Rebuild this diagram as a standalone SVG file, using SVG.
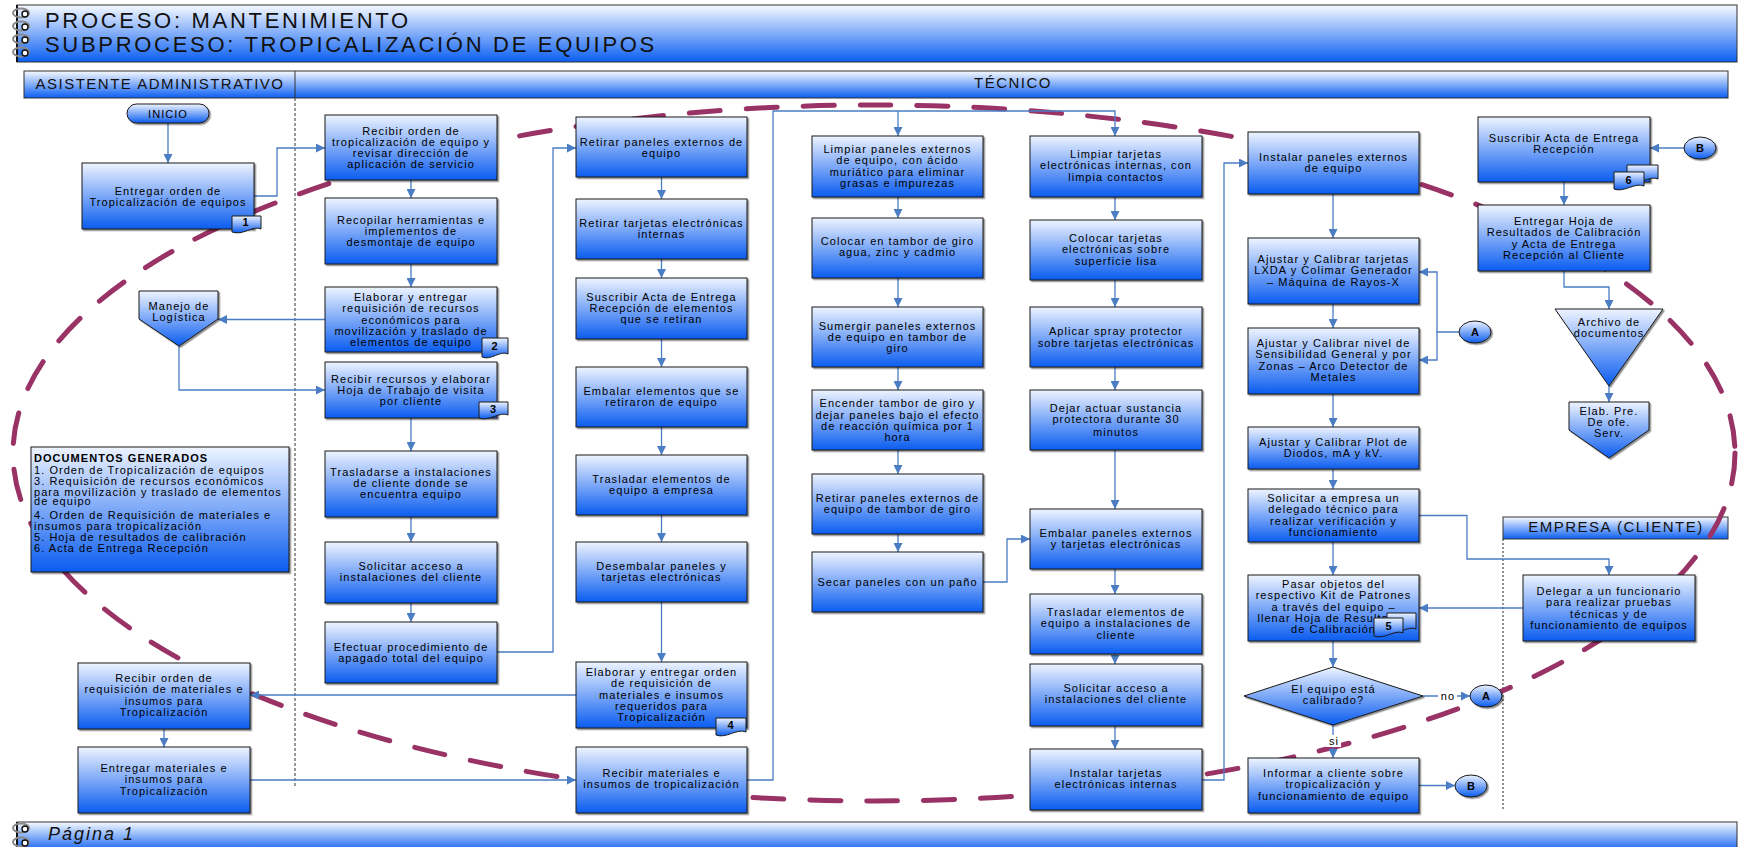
<svg xmlns="http://www.w3.org/2000/svg" xmlns:xlink="http://www.w3.org/1999/xlink" width="1738" height="847" viewBox="0 0 1738 847">
<defs>
  <linearGradient id="gb" x1="0" y1="0" x2="0" y2="1">
    <stop offset="0" stop-color="#eef4ff"/>
    <stop offset="1" stop-color="#0a5cf0"/>
  </linearGradient>
  <linearGradient id="gh" x1="0" y1="0" x2="0" y2="1">
    <stop offset="0" stop-color="#f7faff"/>
    <stop offset="1" stop-color="#0a5ef2"/>
  </linearGradient>
  <filter id="sh" x="-5%" y="-5%" width="115%" height="120%">
    <feDropShadow dx="1.5" dy="1.5" stdDeviation="0.6" flood-color="#000" flood-opacity="0.45"/>
  </filter>
  <marker id="ah" viewBox="0 0 10 10" refX="10" refY="5" markerWidth="10" markerHeight="9" markerUnits="userSpaceOnUse" orient="auto">
    <path d="M0,0 L10,5 L0,10 z" fill="#4a7dc4"/>
  </marker>
  <g id="ring">
    <ellipse cx="0" cy="0" rx="8" ry="4.5" fill="none" stroke="#8a8a8a" stroke-width="2"/>
    <circle cx="4" cy="1" r="3" fill="#fff" stroke="#111" stroke-width="1.4"/>
  </g>
  <style>
    .box{fill:url(#gb);stroke:#1a1a1a;stroke-width:1;filter:url(#sh)}
    .bar{fill:url(#gh);stroke:#333;stroke-width:1}
    .doc{fill:url(#gb);stroke:#1a1a1a;stroke-width:1}
    .t{font-family:"Liberation Sans",Arial,sans-serif;font-size:11px;letter-spacing:1.05px;text-anchor:middle;fill:#000}
    .tl{font-family:"Liberation Sans",Arial,sans-serif;font-size:11px;letter-spacing:1.05px;fill:#000}
    .b{font-weight:bold}
    .title{font-family:"Liberation Sans",Arial,sans-serif;font-size:22px;letter-spacing:2.7px;fill:#111}
    .lane{font-family:"Liberation Sans",Arial,sans-serif;font-size:15px;letter-spacing:1.5px;text-anchor:middle;fill:#111}
    .c{fill:none;stroke:#4a7dc4;stroke-width:1.3;marker-end:url(#ah)}
  </style>
</defs>

<rect width="1738" height="847" fill="#fff"/>

<!-- title bar -->
<g id="title-bar">
  <rect class="bar" x="17" y="5" width="1720" height="57"/>
  <line x1="17" y1="5" x2="17" y2="62" stroke="#111" stroke-width="2"/>
  <use href="#ring" x="21" y="13"/>
  <use href="#ring" x="21" y="26"/>
  <use href="#ring" x="21" y="39"/>
  <use href="#ring" x="21" y="52"/>
  <text class="title" x="45" y="28">PROCESO: MANTENIMIENTO</text>
  <text class="title" x="45" y="52">SUBPROCESO: TROPICALIZACIÓN DE EQUIPOS</text>
</g>

<!-- swimlane headers and separators -->
<g id="lanes">
  <rect class="bar" x="24" y="71" width="1704" height="27"/>
  <line x1="295" y1="71" x2="295" y2="98" stroke="#333"/>
  <text class="lane" x="160" y="89">ASISTENTE ADMINISTRATIVO</text>
  <text class="lane" x="1013" y="88">TÉCNICO</text>
  <line x1="295" y1="98" x2="295" y2="788" stroke="#555" stroke-width="1.2" stroke-dasharray="3 2"/>
  <rect class="bar" x="1503" y="517" width="225" height="22"/>
  <text class="lane" x="1616" y="532">EMPRESA (CLIENTE)</text>
  <line x1="1503" y1="539" x2="1503" y2="809" stroke="#222" stroke-width="1" stroke-dasharray="2 2"/>
</g>

<!-- footer -->
<g id="footer">
  <rect class="bar" x="17" y="822" width="1720" height="30"/>
  <line x1="17" y1="822" x2="17" y2="847" stroke="#111" stroke-width="2"/>
  <use href="#ring" x="21" y="828"/>
  <use href="#ring" x="21" y="842"/>
  <text x="48" y="840" font-family="'Liberation Sans',Arial,sans-serif" font-size="18" font-style="italic" letter-spacing="2" fill="#111">Página 1</text>
</g>

<!-- highlighted scope -->
<ellipse id="scope" cx="874" cy="453" rx="861" ry="348" fill="none" stroke="#993366" stroke-width="5" stroke-dasharray="31 26" stroke-linecap="round"/>

<!-- connectors -->
<g id="connectors">
  <path class="c" d="M168 123V163"/>
  <path class="c" d="M254 196H277V148H325"/>
  <path class="c" d="M411 180V198"/>
  <path class="c" d="M411 264V287"/>
  <path class="c" d="M411 418V451"/>
  <path class="c" d="M411 517V542"/>
  <path class="c" d="M411 603V622"/>
  <path class="c" d="M325 319.5H218"/>
  <path class="c" d="M179 346V390H325"/>
  <path class="c" d="M497 652H553V148H576"/>
  <path class="c" d="M661.5 177V199"/>
  <path class="c" d="M661.5 259V278"/>
  <path class="c" d="M661.5 339V367"/>
  <path class="c" d="M661.5 427V455"/>
  <path class="c" d="M661.5 515V542"/>
  <path class="c" d="M661.5 602V662"/>
  <path class="c" d="M576 695H250"/>
  <path class="c" d="M164 729V747"/>
  <path class="c" d="M250 780H576"/>
  <path class="c" d="M747 780H773V111H1115V136"/>
  <path class="c" d="M898 111V136"/>
  <path class="c" d="M898 197V218"/>
  <path class="c" d="M898 278V307"/>
  <path class="c" d="M898 367V390"/>
  <path class="c" d="M898 450V474"/>
  <path class="c" d="M898 534V552"/>
  <path class="c" d="M983 582H1007V539H1030"/>
  <path class="c" d="M1115 197V220"/>
  <path class="c" d="M1115 280V307"/>
  <path class="c" d="M1115 367V390"/>
  <path class="c" d="M1115 450V509"/>
  <path class="c" d="M1115 569V594"/>
  <path class="c" d="M1115 654V664"/>
  <path class="c" d="M1115 726V749"/>
  <path class="c" d="M1202 780H1224V163H1248"/>
  <path class="c" d="M1333 194V238"/>
  <path class="c" d="M1333 304V328"/>
  <path class="c" d="M1333 394V427"/>
  <path class="c" d="M1333 469V489"/>
  <path class="c" d="M1333 542V575"/>
  <path class="c" d="M1333 641V667"/>
  <path class="c" d="M1333 725V758"/>
  <path class="c" d="M1459 332H1437V272H1419"/>
  <path class="c" d="M1437 332V360H1419"/>
  <path class="c" d="M1684 148H1650"/>
  <path class="c" d="M1564 182V205"/>
  <path class="c" d="M1564 271V287H1609V309"/>
  <path class="c" d="M1609 386V402"/>
  <path class="c" d="M1419 515.5H1467V559H1609V575"/>
  <path class="c" d="M1523 608H1419"/>
  <path class="c" d="M1423 696H1470"/>
  <path class="c" d="M1419 785.5H1455"/>
  <rect x="1438" y="690" width="19" height="12" fill="#fff"/>
  <text class="t" x="1448" y="700">no</text>
  <rect x="1326" y="735" width="15" height="12" fill="#fff"/>
  <text class="t" x="1334" y="745">si</text>
</g>

<!-- ASISTENTE ADMINISTRATIVO lane -->
<g id="inicio">
  <rect class="box" x="127" y="104" width="82" height="19" rx="9.5"/>
  <text class="t" x="168" y="118">INICIO</text>
</g>
<g id="entregar-orden">
  <rect class="box" x="82" y="163" width="172" height="66"/>
  <text class="t" x="168" y="194.5">Entregar orden de<tspan x="168" dy="11.3">Tropicalización de equipos</tspan></text>
  <path class="doc" d="M232 216H261V229C253 225 243 236 232 232Z"/>
  <text class="t b" x="246" y="226">1</text>
</g>
<g id="manejo-logistica">
  <polygon class="box" points="139,291 218,291 218,319 179,346 139,319"/>
  <text class="t" x="179" y="309.5">Manejo de<tspan x="179" dy="11">Logística</tspan></text>
</g>
<g id="documentos-generados">
  <rect class="box" x="31" y="447" width="258" height="125"/>
  <text class="tl b" x="34" y="462">DOCUMENTOS GENERADOS</text>
  <text class="tl" x="34" y="474">1. Orden de Tropicalización de equipos</text>
  <text class="tl" x="34" y="485">3. Requisición de recursos económicos</text>
  <text class="tl" x="34" y="496">para movilización y traslado de elementos</text>
  <text class="tl" x="34" y="505">de equipo</text>
  <text class="tl" x="34" y="518.5">4. Orden de Requisición de materiales e</text>
  <text class="tl" x="34" y="529.5">insumos para tropicalización</text>
  <text class="tl" x="34" y="541">5. Hoja de resultados de calibración</text>
  <text class="tl" x="34" y="552">6. Acta de Entrega Recepción</text>
</g>
<g id="recibir-requisicion">
  <rect class="box" x="78" y="663" width="172" height="66"/>
  <text class="t" x="164" y="682">Recibir orden de<tspan x="164" dy="11.3">requisición de materiales e</tspan><tspan x="164" dy="11.3">insumos para</tspan><tspan x="164" dy="11.3">Tropicalización</tspan></text>
</g>
<g id="entregar-materiales">
  <rect class="box" x="78" y="747" width="172" height="66"/>
  <text class="t" x="164" y="772">Entregar materiales e<tspan x="164" dy="11.3">insumos para</tspan><tspan x="164" dy="11.3">Tropicalización</tspan></text>
</g>

<!-- TÉCNICO lane, first column -->
<g id="recibir-orden">
  <rect class="box" x="325" y="115" width="172" height="65"/>
  <text class="t" x="411" y="134.5">Recibir orden de<tspan x="411" dy="11.3">tropicalización de equipo  y</tspan><tspan x="411" dy="11.3">revisar  dirección de</tspan><tspan x="411" dy="11.3">aplicación de servicio</tspan></text>
</g>
<g id="recopilar">
  <rect class="box" x="325" y="198" width="172" height="66"/>
  <text class="t" x="411" y="223.7">Recopilar herramientas  e<tspan x="411" dy="11.3">implementos de</tspan><tspan x="411" dy="11.3">desmontaje de equipo</tspan></text>
</g>
<g id="elaborar-requisicion">
  <rect class="box" x="325" y="287" width="172" height="65"/>
  <text class="t" x="411" y="300.9">Elaborar y entregar<tspan x="411" dy="11.3">requisición de recursos</tspan><tspan x="411" dy="11.3">económicos para</tspan><tspan x="411" dy="11.3">movilización y traslado de</tspan><tspan x="411" dy="11.3">elementos de equipo</tspan></text>
  <path class="doc" d="M482 338H508V354C500 350 491 361 482 357Z"/>
  <text class="t b" x="495" y="350">2</text>
</g>
<g id="recibir-recursos">
  <rect class="box" x="325" y="362" width="172" height="56"/>
  <text class="t" x="411" y="382.7">Recibir recursos y elaborar<tspan x="411" dy="11.3">Hoja de Trabajo de visita</tspan><tspan x="411" dy="11.3">por cliente</tspan></text>
  <path class="doc" d="M479 402H508V415C500 411 489 422 479 418Z"/>
  <text class="t b" x="493.5" y="413">3</text>
</g>
<g id="trasladarse">
  <rect class="box" x="325" y="451" width="172" height="66"/>
  <text class="t" x="411" y="475.7">Trasladarse a instalaciones<tspan x="411" dy="11.3">de cliente donde se</tspan><tspan x="411" dy="11.3">encuentra equipo</tspan></text>
</g>
<g id="solicitar-acceso-1">
  <rect class="box" x="325" y="542" width="172" height="61"/>
  <text class="t" x="411" y="569.5">Solicitar acceso  a<tspan x="411" dy="11.3">instalaciones del cliente</tspan></text>
</g>
<g id="efectuar-apagado">
  <rect class="box" x="325" y="622" width="172" height="61"/>
  <text class="t" x="411" y="650.8">Efectuar procedimiento de<tspan x="411" dy="11.3">apagado total del equipo</tspan></text>
</g>

<!-- second column -->
<g id="retirar-paneles">
  <rect class="box" x="576" y="117" width="171" height="60"/>
  <text class="t" x="661.5" y="146">Retirar paneles externos de<tspan x="661.5" dy="11.3">equipo</tspan></text>
</g>
<g id="retirar-tarjetas">
  <rect class="box" x="576" y="199" width="171" height="60"/>
  <text class="t" x="661.5" y="227">Retirar tarjetas electrónicas<tspan x="661.5" dy="11.3">internas</tspan></text>
</g>
<g id="suscribir-retiro">
  <rect class="box" x="576" y="278" width="171" height="61"/>
  <text class="t" x="661.5" y="300.8">Suscribir Acta de Entrega<tspan x="661.5" dy="11.3">Recepción de elementos</tspan><tspan x="661.5" dy="11.3">que  se retiran</tspan></text>
</g>
<g id="embalar-elementos">
  <rect class="box" x="576" y="367" width="171" height="60"/>
  <text class="t" x="661.5" y="395">Embalar elementos que se<tspan x="661.5" dy="11.3">retiraron de equipo</tspan></text>
</g>
<g id="trasladar-empresa">
  <rect class="box" x="576" y="455" width="171" height="60"/>
  <text class="t" x="661.5" y="483">Trasladar elementos de<tspan x="661.5" dy="11.3">equipo a empresa</tspan></text>
</g>
<g id="desembalar">
  <rect class="box" x="576" y="542" width="171" height="60"/>
  <text class="t" x="661.5" y="570">Desembalar paneles y<tspan x="661.5" dy="11.3">tarjetas electrónicas</tspan></text>
</g>
<g id="elaborar-orden">
  <rect class="box" x="576" y="662" width="171" height="66"/>
  <text class="t" x="661.5" y="676">Elaborar y entregar orden<tspan x="661.5" dy="11.3">de requisición de</tspan><tspan x="661.5" dy="11.3">materiales e insumos</tspan><tspan x="661.5" dy="11.3">requeridos para</tspan><tspan x="661.5" dy="11.3">Tropicalización</tspan></text>
  <path class="doc" d="M716 718H746V732C737 728 726 739 716 735Z"/>
  <text class="t b" x="731" y="729">4</text>
</g>
<g id="recibir-materiales">
  <rect class="box" x="576" y="747" width="171" height="66"/>
  <text class="t" x="661.5" y="777">Recibir materiales e<tspan x="661.5" dy="11.3">insumos de tropicalización</tspan></text>
</g>

<!-- third column -->
<g id="limpiar-paneles">
  <rect class="box" x="812" y="136" width="171" height="61"/>
  <text class="t" x="897.5" y="153">Limpiar paneles externos<tspan x="897.5" dy="11.3">de equipo, con ácido</tspan><tspan x="897.5" dy="11.3">muriático para eliminar</tspan><tspan x="897.5" dy="11.3">grasas e impurezas</tspan></text>
</g>
<g id="colocar-tambor">
  <rect class="box" x="812" y="218" width="171" height="60"/>
  <text class="t" x="897.5" y="245">Colocar en tambor de giro<tspan x="897.5" dy="11.3">agua, zinc y cadmio</tspan></text>
</g>
<g id="sumergir-paneles">
  <rect class="box" x="812" y="307" width="171" height="60"/>
  <text class="t" x="897.5" y="329.5">Sumergir paneles externos<tspan x="897.5" dy="11.3">de equipo en tambor de</tspan><tspan x="897.5" dy="11.3">giro</tspan></text>
</g>
<g id="encender-tambor">
  <rect class="box" x="812" y="390" width="171" height="60"/>
  <text class="t" x="897.5" y="407.3">Encender tambor de giro y<tspan x="897.5" dy="11.3">dejar paneles bajo el efecto</tspan><tspan x="897.5" dy="11.3">de reacción química por 1</tspan><tspan x="897.5" dy="11.3">hora</tspan></text>
</g>
<g id="retirar-de-tambor">
  <rect class="box" x="812" y="474" width="171" height="60"/>
  <text class="t" x="897.5" y="502">Retirar paneles externos de<tspan x="897.5" dy="11.3">equipo de tambor de giro</tspan></text>
</g>
<g id="secar-paneles">
  <rect class="box" x="812" y="552" width="171" height="60"/>
  <text class="t" x="897.5" y="586">Secar paneles con un paño</text>
</g>

<!-- fourth column -->
<g id="limpiar-tarjetas">
  <rect class="box" x="1030" y="136" width="172" height="61"/>
  <text class="t" x="1116" y="158">Limpiar tarjetas<tspan x="1116" dy="11.3">electrónicas internas, con</tspan><tspan x="1116" dy="11.3">limpia contactos</tspan></text>
</g>
<g id="colocar-tarjetas">
  <rect class="box" x="1030" y="220" width="172" height="60"/>
  <text class="t" x="1116" y="242">Colocar tarjetas<tspan x="1116" dy="11.3">electrónicas sobre</tspan><tspan x="1116" dy="11.3">superficie lisa</tspan></text>
</g>
<g id="aplicar-spray">
  <rect class="box" x="1030" y="307" width="172" height="60"/>
  <text class="t" x="1116" y="335.4">Aplicar spray protector<tspan x="1116" dy="11.3">sobre tarjetas electrónicas</tspan></text>
</g>
<g id="dejar-actuar">
  <rect class="box" x="1030" y="390" width="172" height="60"/>
  <text class="t" x="1116" y="412">Dejar actuar sustancia<tspan x="1116" dy="11.3">protectora durante 30</tspan><tspan x="1116" dy="12.3">minutos</tspan></text>
</g>
<g id="embalar-paneles">
  <rect class="box" x="1030" y="509" width="172" height="60"/>
  <text class="t" x="1116" y="537">Embalar paneles externos<tspan x="1116" dy="11.3">y tarjetas electrónicas</tspan></text>
</g>
<g id="trasladar-cliente">
  <rect class="box" x="1030" y="594" width="172" height="60"/>
  <text class="t" x="1116" y="616">Trasladar elementos de<tspan x="1116" dy="11.3">equipo a instalaciones de</tspan><tspan x="1116" dy="11.3">cliente</tspan></text>
</g>
<g id="solicitar-acceso-2">
  <rect class="box" x="1030" y="664" width="172" height="62"/>
  <text class="t" x="1116" y="692">Solicitar acceso  a<tspan x="1116" dy="11.3">instalaciones del cliente</tspan></text>
</g>
<g id="instalar-tarjetas">
  <rect class="box" x="1030" y="749" width="172" height="61"/>
  <text class="t" x="1116" y="777">Instalar tarjetas<tspan x="1116" dy="11.3">electrónicas internas</tspan></text>
</g>

<!-- fifth column -->
<g id="instalar-paneles">
  <rect class="box" x="1248" y="132" width="171" height="62"/>
  <text class="t" x="1333.5" y="161">Instalar paneles externos<tspan x="1333.5" dy="11.3">de equipo</tspan></text>
</g>
<g id="ajustar-lxda">
  <rect class="box" x="1248" y="238" width="171" height="66"/>
  <text class="t" x="1333.5" y="263">Ajustar y Calibrar tarjetas<tspan x="1333.5" dy="11.3">LXDA y Colimar Generador</tspan><tspan x="1333.5" dy="11.3">– Máquina de Rayos-X</tspan></text>
</g>
<g id="ajustar-sensibilidad">
  <rect class="box" x="1248" y="328" width="171" height="66"/>
  <text class="t" x="1333.5" y="347">Ajustar y Calibrar nivel de<tspan x="1333.5" dy="11.3">Sensibilidad General y por</tspan><tspan x="1333.5" dy="11.3">Zonas – Arco Detector de</tspan><tspan x="1333.5" dy="11.3">Metales</tspan></text>
</g>
<g id="ajustar-plot">
  <rect class="box" x="1248" y="427" width="171" height="42"/>
  <text class="t" x="1333.5" y="446">Ajustar y Calibrar  Plot de<tspan x="1333.5" dy="11.3">Diodos, mA y kV.</tspan></text>
</g>
<g id="solicitar-delegado">
  <rect class="box" x="1248" y="489" width="171" height="53"/>
  <text class="t" x="1333.5" y="502">Solicitar a empresa un<tspan x="1333.5" dy="11.3">delegado técnico para</tspan><tspan x="1333.5" dy="11.3">realizar verificación y</tspan><tspan x="1333.5" dy="11.3">funcionamiento</tspan></text>
</g>
<g id="pasar-objetos">
  <rect class="box" x="1248" y="575" width="171" height="66"/>
  <text class="t" x="1333.5" y="588">Pasar objetos del<tspan x="1333.5" dy="11.3">respectivo Kit de Patrones</tspan><tspan x="1333.5" dy="11.3">a través del equipo –</tspan><tspan x="1333.5" dy="11.3">llenar Hoja de Resultados</tspan><tspan x="1333.5" dy="11.3">de Calibración</tspan></text>
  <path class="doc" d="M1387 613H1416V629C1408 625 1397 636 1387 632Z"/>
  <path class="doc" d="M1374 618H1403V633C1395 629 1384 640 1374 636Z"/>
  <text class="t b" x="1389" y="630">5</text>
</g>
<g id="decision-calibrado">
  <polygon class="box" points="1244,696 1333,667 1423,696 1333,725"/>
  <text class="t" x="1333.5" y="693">El equipo está<tspan x="1333.5" dy="11">calibrado?</tspan></text>
</g>
<g id="informar-cliente">
  <rect class="box" x="1248" y="758" width="171" height="55"/>
  <text class="t" x="1333.5" y="777">Informar a cliente sobre<tspan x="1333.5" dy="11.3">tropicalización y</tspan><tspan x="1333.5" dy="11.3">funcionamiento de equipo</tspan></text>
</g>
<g id="conector-a-1">
  <ellipse class="box" cx="1475" cy="332" rx="16" ry="11"/>
  <text class="t b" x="1475.5" y="336">A</text>
</g>
<g id="conector-a-2">
  <ellipse class="box" cx="1486" cy="696" rx="16" ry="11"/>
  <text class="t b" x="1486.5" y="700">A</text>
</g>
<g id="conector-b-2">
  <ellipse class="box" cx="1471" cy="786" rx="16" ry="11"/>
  <text class="t b" x="1471.5" y="790">B</text>
</g>

<!-- sixth column -->
<g id="conector-b-1">
  <ellipse class="box" cx="1700" cy="148" rx="16" ry="11"/>
  <text class="t b" x="1700.5" y="152">B</text>
</g>
<g id="suscribir-acta">
  <rect class="box" x="1478" y="117" width="172" height="65"/>
  <text class="t" x="1564" y="141.5">Suscribir Acta de Entrega<tspan x="1564" dy="11">Recepción</tspan></text>
  <path class="doc" d="M1627 165H1658V179C1650 175 1638 186 1627 182Z"/>
  <path class="doc" d="M1614 172H1644V186C1635 182 1624 193 1614 189Z"/>
  <text class="t b" x="1629" y="184">6</text>
</g>
<g id="entregar-hoja">
  <rect class="box" x="1478" y="205" width="172" height="66"/>
  <text class="t" x="1564" y="225">Entregar Hoja de<tspan x="1564" dy="11.3">Resultados de Calibración</tspan><tspan x="1564" dy="11.3">y Acta de Entrega</tspan><tspan x="1564" dy="11.3">Recepción al Cliente</tspan></text>
</g>
<g id="archivo-documentos">
  <polygon class="box" points="1555,309 1663,309 1609,386"/>
  <text class="t" x="1609" y="325.5">Archivo de<tspan x="1609" dy="11">documentos</tspan></text>
</g>
<g id="elab-pre-ofe">
  <polygon class="box" points="1569,402 1649,402 1649,430 1609,458 1569,430"/>
  <text class="t" x="1609" y="414.5">Elab. Pre.<tspan x="1609" dy="11">De ofe.</tspan><tspan x="1609" dy="11.5">Serv.</tspan></text>
</g>
<g id="delegar-funcionario">
  <rect class="box" x="1523" y="575" width="172" height="66"/>
  <text class="t" x="1609" y="595">Delegar a un funcionario<tspan x="1609" dy="11.3">para realizar pruebas</tspan><tspan x="1609" dy="11.3">técnicas y de</tspan><tspan x="1609" dy="11.3">funcionamiento de equipos</tspan></text>
</g>
</svg>
